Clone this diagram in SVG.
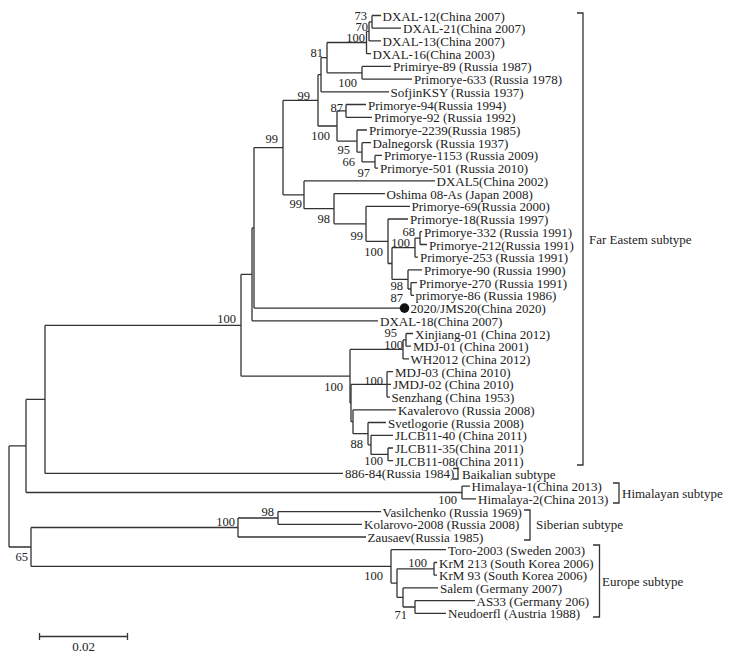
<svg xmlns="http://www.w3.org/2000/svg" width="732" height="654" viewBox="0 0 732 654">
<style>
.t{font-family:"Liberation Serif","Times New Roman",serif;font-size:13px;fill:#222}
.b{font-family:"Liberation Serif","Times New Roman",serif;font-size:12.5px;fill:#222;text-anchor:end}
.e{fill:none;stroke:#333;stroke-width:1.3}
</style>
<rect width="732" height="654" fill="#fff"/>
<g id="connectors" class="e">
<path d="M9,445.9V547M9,445.9H26M9,547H31"/>
<path d="M26,399.4V492.5M26,399.4H45M26,492.5H462"/>
<path d="M45,325.3V473.4M45,325.3H241M45,473.4H343"/>
<path d="M462,486.1V498.9M462,486.1H470M462,498.9H476"/>
<path d="M241,274.3V376.2M241,274.3H252M241,376.2H350"/>
<path d="M252,227.9V320.8M252,227.9H254M252,320.8H378"/>
<path d="M254,147.6V308.1M254,147.6H283M254,308.1H400"/>
<path d="M283,100.4V194.8M283,100.4H318M283,194.8H304"/>
<path d="M318,74.7V126M318,74.7H321M318,126H337"/>
<path d="M321,57.6V91.8M321,57.6H327M321,91.8H389"/>
<path d="M327,42.5V72.8M327,42.5H366.5M327,72.8H362"/>
<path d="M366.5,31.4V53.7M366.5,31.4H369M366.5,53.7H371"/>
<path d="M369,21.9V40.9M369,21.9H372M369,40.9H381"/>
<path d="M372,15.5V28.2M372,15.5H381M372,28.2H401"/>
<path d="M362,66.4V79.1M362,66.4H391M362,79.1H412"/>
<path d="M337,110.9V141.1M337,110.9H346M337,141.1H357"/>
<path d="M346,104.5V117.3M346,104.5H366M346,117.3H372"/>
<path d="M357,130V152.2M357,130H367M357,152.2H362"/>
<path d="M362,142.7V161.8M362,142.7H371M362,161.8H375"/>
<path d="M375,155.4V168.1M375,155.4H382M375,168.1H378"/>
<path d="M304,180.9V208.7M304,180.9H435M304,208.7H334"/>
<path d="M334,193.6V223.8M334,193.6H385M334,223.8H366"/>
<path d="M366,206.3V241.3M366,206.3H410M366,241.3H388"/>
<path d="M388,219V263.5M388,219H408M388,263.5H392"/>
<path d="M392,247.6V279.4M392,247.6H415M392,279.4H408"/>
<path d="M415,238.1V257.2M415,238.1H420M415,257.2H418"/>
<path d="M420,231.7V244.5M420,231.7H422M420,244.5H427"/>
<path d="M408,269.9V289M408,269.9H422M408,289H411"/>
<path d="M411,282.6V295.3M411,282.6H417M411,295.3H414"/>
<path d="M350,349.4V403.1M350,349.4H403M350,403.1H351"/>
<path d="M403,339.9V358.9M403,339.9H406M403,358.9H409"/>
<path d="M406,333.5V346.2M406,333.5H413M406,346.2H411"/>
<path d="M351,384.4V421.7M351,384.4H387M351,421.7H353"/>
<path d="M387,371.7V397.1M387,371.7H393M387,384.4H391M387,397.1H390"/>
<path d="M353,409.8V433.7M353,409.8H396M353,433.7H368"/>
<path d="M368,422.5V444.8M368,422.5H386M368,444.8H371"/>
<path d="M371,435.3V454.4M371,435.3H393M371,454.4H388"/>
<path d="M388,448V460.7M388,448H393M388,460.7H393"/>
<path d="M31,527.5V566.4M31,527.5H238M31,566.4H391"/>
<path d="M238,518V537M238,518H278M238,537H366"/>
<path d="M278,511.6V524.3M278,511.6H381M278,524.3H362"/>
<path d="M391,549.7V583.1M391,549.7H446M391,583.1H397"/>
<path d="M397,568.8V597.4M397,568.8H434M397,597.4H403"/>
<path d="M434,562.5V575.2M434,562.5H437M434,575.2H437"/>
<path d="M403,587.9V607M403,587.9H438M403,607H415"/>
<path d="M415,600.6V613.3M415,600.6H475M415,613.3H446"/>
</g>
<g id="leaves">
<g id="leaf1"><text class="t" x="382.5" y="20.5">DXAL-12(China 2007)</text></g>
<g id="leaf2"><text class="t" x="403" y="33.2">DXAL-21(China 2007)</text></g>
<g id="leaf3"><text class="t" x="382.5" y="45.9">DXAL-13(China 2007)</text></g>
<g id="leaf4"><text class="t" x="372.5" y="58.7">DXAL-16(China 2003)</text></g>
<g id="leaf5"><text class="t" x="393" y="71.4">Primirye-89 (Russia 1987)</text></g>
<g id="leaf6"><text class="t" x="414" y="84.1">Primorye-633 (Russia 1978)</text></g>
<g id="leaf7"><text class="t" x="390.5" y="96.8">SofjinKSY (Russia 1937)</text></g>
<g id="leaf8"><text class="t" x="368" y="109.5">Primorye-94(Russia 1994)</text></g>
<g id="leaf9"><text class="t" x="374" y="122.3">Primorye-92 (Russia 1992)</text></g>
<g id="leaf10"><text class="t" x="369" y="135">Primorye-2239(Russia 1985)</text></g>
<g id="leaf11"><text class="t" x="372.5" y="147.7">Dalnegorsk (Russia 1937)</text></g>
<g id="leaf12"><text class="t" x="384" y="160.4">Primorye-1153 (Russia 2009)</text></g>
<g id="leaf13"><text class="t" x="380" y="173.1">Primorye-501 (Russia 2010)</text></g>
<g id="leaf14"><text class="t" x="436.5" y="185.9">DXAL5(China 2002)</text></g>
<g id="leaf15"><text class="t" x="386.5" y="198.6">Oshima 08-As (Japan 2008)</text></g>
<g id="leaf16"><text class="t" x="411.5" y="211.3">Primorye-69(Russia 2000)</text></g>
<g id="leaf17"><text class="t" x="410" y="224">Primorye-18(Russia 1997)</text></g>
<g id="leaf18"><text class="t" x="424" y="236.7">Primorye-332 (Russia 1991)</text></g>
<g id="leaf19"><text class="t" x="429" y="249.5">Primorye-212(Russia 1991)</text></g>
<g id="leaf20"><text class="t" x="420" y="262.2">Primorye-253 (Russia 1991)</text></g>
<g id="leaf21"><text class="t" x="424" y="274.9">Primorye-90 (Russia 1990)</text></g>
<g id="leaf22"><text class="t" x="419" y="287.6">Primorye-270 (Russia 1991)</text></g>
<g id="leaf23"><text class="t" x="415.5" y="300.3">primorye-86 (Russia 1986)</text></g>
<g id="leaf24"><circle cx="404.5" cy="308.1" r="4.8" fill="#111"/><text class="t" x="410.5" y="313.1">2020/JMS20(China 2020)</text></g>
<g id="leaf25"><text class="t" x="380" y="325.8">DXAL-18(China 2007)</text></g>
<g id="leaf26"><text class="t" x="415" y="338.5">Xinjiang-01 (China 2012)</text></g>
<g id="leaf27"><text class="t" x="413" y="351.2">MDJ-01 (China 2001)</text></g>
<g id="leaf28"><text class="t" x="410.5" y="363.9">WH2012 (China 2012)</text></g>
<g id="leaf29"><text class="t" x="395" y="376.7">MDJ-03 (China 2010)</text></g>
<g id="leaf30"><text class="t" x="393" y="389.4">JMDJ-02 (China 2010)</text></g>
<g id="leaf31"><text class="t" x="391.5" y="402.1">Senzhang (China 1953)</text></g>
<g id="leaf32"><text class="t" x="398" y="414.8">Kavalerovo (Russia 2008)</text></g>
<g id="leaf33"><text class="t" x="388" y="427.5">Svetlogorie (Russia 2008)</text></g>
<g id="leaf34"><text class="t" x="395" y="440.3">JLCB11-40 (China 2011)</text></g>
<g id="leaf35"><text class="t" x="395" y="453">JLCB11-35(China 2011)</text></g>
<g id="leaf36"><text class="t" x="395" y="465.7">JLCB11-08(China 2011)</text></g>
<g id="leaf37"><text class="t" x="345" y="478.4">886-84(Russia 1984)</text></g>
<g id="leaf38"><text class="t" x="471.5" y="491.1">Himalaya-1(China 2013)</text></g>
<g id="leaf39"><text class="t" x="478" y="503.9">Himalaya-2(China 2013)</text></g>
<g id="leaf40"><text class="t" x="382.5" y="516.6">Vasilchenko (Russia 1969)</text></g>
<g id="leaf41"><text class="t" x="364" y="529.3">Kolarovo-2008 (Russia 2008)</text></g>
<g id="leaf42"><text class="t" x="367.5" y="542">Zausaev(Russia 1985)</text></g>
<g id="leaf43"><text class="t" x="448" y="554.7">Toro-2003 (Sweden 2003)</text></g>
<g id="leaf44"><text class="t" x="439" y="567.5">KrM 213 (South Korea 2006)</text></g>
<g id="leaf45"><text class="t" x="439" y="580.2">KrM 93 (South Korea 2006)</text></g>
<g id="leaf46"><text class="t" x="440" y="592.9">Salem (Germany 2007)</text></g>
<g id="leaf47"><text class="t" x="476.5" y="605.6">AS33 (Germany 206)</text></g>
<g id="leaf48"><text class="t" x="448" y="618.3">Neudoerfl (Austria 1988)</text></g>
</g>
<g id="bootstrap">
<text class="b" x="367" y="19.5">73</text>
<text class="b" x="368" y="31">70</text>
<text class="b" x="365" y="41.5">100</text>
<text class="b" x="323" y="56.5">81</text>
<text class="b" x="357" y="86.5">100</text>
<text class="b" x="310" y="99.5">99</text>
<text class="b" x="343" y="111.5">87</text>
<text class="b" x="330" y="139.5">100</text>
<text class="b" x="350" y="154">95</text>
<text class="b" x="355" y="166">66</text>
<text class="b" x="370" y="176.5">97</text>
<text class="b" x="278" y="142.5">99</text>
<text class="b" x="302" y="207.5">99</text>
<text class="b" x="330" y="222.5">98</text>
<text class="b" x="363" y="239.5">99</text>
<text class="b" x="383" y="255.5">100</text>
<text class="b" x="415" y="236">68</text>
<text class="b" x="410" y="246.5">100</text>
<text class="b" x="403" y="290">98</text>
<text class="b" x="403" y="301.5">87</text>
<text class="b" x="236" y="322.5">100</text>
<text class="b" x="397" y="337">95</text>
<text class="b" x="403" y="348.5">100</text>
<text class="b" x="343" y="390.5">100</text>
<text class="b" x="383" y="384.5">100</text>
<text class="b" x="363" y="447.5">88</text>
<text class="b" x="383" y="464.5">100</text>
<text class="b" x="457" y="503.5">100</text>
<text class="b" x="274" y="515.5">98</text>
<text class="b" x="235" y="525.5">100</text>
<text class="b" x="427" y="566.5">100</text>
<text class="b" x="383" y="579.5">100</text>
<text class="b" x="407" y="618.5">71</text>
<text class="b" x="28" y="560.5">65</text>
</g>
<g id="subtypes">
<g id="far-eastern"><path class="e" d="M577,13H583V465H577"/><text class="t" x="589" y="244">Far Eastem subtype</text></g>
<g id="baikalian"><path class="e" d="M453,468.5H458V479H453"/><text class="t" x="462" y="478.5">Baikalian subtype</text></g>
<g id="himalayan"><path class="e" d="M613,483H619V503H613"/><text class="t" x="622" y="497.5">Himalayan subtype</text></g>
<g id="siberian"><path class="e" d="M524,510H530V540H524"/><text class="t" x="536" y="528.5">Siberian subtype</text></g>
<g id="europe"><path class="e" d="M593,545H599.5V617H593"/><text class="t" x="602" y="586">Europe subtype</text></g>
</g>
<g id="scale">
<path class="e" d="M39.5,636.5H127.5M39.5,633V640M127.5,633V640"/>
<text class="t" x="83.5" y="651" text-anchor="middle">0.02</text>
</g>
</svg>
